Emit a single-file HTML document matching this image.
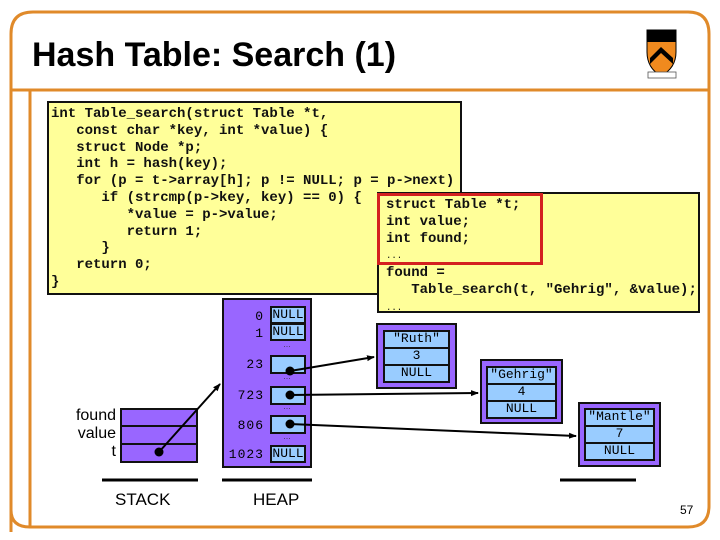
<!DOCTYPE html>
<html><head><meta charset="utf-8"><style>
body{margin:0;width:720px;height:540px;background:#fff;position:relative;overflow:hidden;font-family:"Liberation Sans",sans-serif}
.a{position:absolute}
.code{font-family:"Liberation Mono",monospace;font-weight:bold;font-size:14px;line-height:16.8px;white-space:pre;color:#111}
.cell{position:absolute;background:#99ccff;border:2px solid #111;box-sizing:border-box;text-align:center;font-family:"Liberation Mono",monospace;font-size:13px;line-height:14px}
.idx{position:absolute;font-family:"Liberation Mono",monospace;font-size:13px;text-align:right;width:44px;letter-spacing:1px}
.dots{position:absolute;font-size:8px;color:#333}
</style></head><body>
<svg class="a" style="left:0;top:0" width="720" height="540">
<path d="M11,532 L11,34 Q11,12 33,12 L688,12 Q709,12 709,34 L709,506 Q709,527 688,527 L30,527" fill="none" stroke="#e08a2a" stroke-width="3"/>
<path d="M11,510 Q11,527 30,527" fill="none" stroke="#e08a2a" stroke-width="3"/>
<line x1="11" y1="90" x2="709" y2="90" stroke="#e08a2a" stroke-width="3"/>
<line x1="30" y1="90" x2="30" y2="527" stroke="#e08a2a" stroke-width="3"/>
<path d="M647,30 L676,30 L676,52 Q676,68 661,76 Q647,68 647,52 Z" fill="#f08a1e" stroke="#000"/>
<rect x="647" y="30" width="29" height="12" fill="#000"/>
<path d="M650,58 L661,47 L673,58 L673,64 L661,53 L650,64 Z" fill="#000"/>
<rect x="648" y="72" width="28" height="6" fill="#fff" stroke="#555" stroke-width="0.8"/>
<line x1="102" y1="480" x2="198" y2="480" stroke="#000" stroke-width="3"/>
<line x1="222" y1="480" x2="312" y2="480" stroke="#000" stroke-width="3"/>
<line x1="560" y1="480" x2="636" y2="480" stroke="#000" stroke-width="3"/>
</svg>
<div class="a" style="left:32px;top:36px;font-size:34px;font-weight:bold">Hash Table: Search (1)</div>

<div class="a code" style="left:47px;top:101px;width:409px;height:187px;background:#ffff99;border:2px solid #111;padding:3px 0 0 2px;box-sizing:content-box">int Table_search(struct Table *t,
   const char *key, int *value) {
   struct Node *p;
   int h = hash(key);
   for (p = t-&gt;array[h]; p != NULL; p = p-&gt;next)
      if (strcmp(p-&gt;key, key) == 0) {
         *value = p-&gt;value;
         return 1;
      }
   return 0;
}</div>
<div class="a code" style="left:377px;top:192px;background:#ffff99;border:2px solid #111;padding:3px 0 0 7px;box-sizing:border-box;width:323px;height:121px">struct Table *t;
int value;
int found;
<span style="font-weight:normal;font-size:9px">...</span>
found =
   Table_search(t, "Gehrig", &amp;value);
<span style="font-weight:normal;font-size:9px">...</span></div>
<div class="a" style="left:377px;top:193px;width:160px;height:66px;border:3px solid #d42020"></div>

<div class="a" style="left:222px;top:298px;width:90px;height:170px;background:#9966ff;border:2px solid #111;box-sizing:border-box"></div>
<div class="idx" style="left:220px;top:309px">0</div>
<div class="idx" style="left:220px;top:326px">1</div>
<div class="idx" style="left:220px;top:357px">23</div>
<div class="idx" style="left:220px;top:388px">723</div>
<div class="idx" style="left:220px;top:418px">806</div>
<div class="idx" style="left:220px;top:447px">1023</div>
<div class="cell" style="left:270px;top:306px;width:36px;height:18px">NULL</div>
<div class="cell" style="left:270px;top:323px;width:36px;height:18px">NULL</div>
<div class="cell" style="left:270px;top:355px;width:36px;height:19px"></div>
<div class="cell" style="left:270px;top:386px;width:36px;height:19px"></div>
<div class="cell" style="left:270px;top:415px;width:36px;height:19px"></div>
<div class="cell" style="left:270px;top:445px;width:36px;height:18px">NULL</div>
<div class="dots" style="left:283px;top:340px">…</div>
<div class="dots" style="left:283px;top:372px">…</div>
<div class="dots" style="left:283px;top:402px">…</div>
<div class="dots" style="left:283px;top:432px">…</div>

<div class="a" style="left:120px;top:408px;width:78px;height:55px;background:#9966ff;border:2px solid #111;box-sizing:border-box"></div>
<div class="a" style="left:120px;top:425px;width:78px;height:2px;background:#111"></div>
<div class="a" style="left:120px;top:443px;width:78px;height:2px;background:#111"></div>
<div class="a" style="left:50px;top:407px;width:66px;text-align:right;font-size:16px;line-height:18px">found<br>value<br>t</div>

<div class="a" style="left:376px;top:323px;width:81px;height:66px;background:#9966ff;border:2px solid #111;box-sizing:border-box"></div>
<div class="cell" style="left:383px;top:330px;width:67px;height:19px">"Ruth"</div>
<div class="cell" style="left:383px;top:347px;width:67px;height:19px">3</div>
<div class="cell" style="left:383px;top:364px;width:67px;height:19px">NULL</div>
<div class="a" style="left:480px;top:359px;width:83px;height:65px;background:#9966ff;border:2px solid #111;box-sizing:border-box"></div>
<div class="cell" style="left:486px;top:366px;width:71px;height:19px">"Gehrig"</div>
<div class="cell" style="left:486px;top:383px;width:71px;height:19px">4</div>
<div class="cell" style="left:486px;top:400px;width:71px;height:19px">NULL</div>
<div class="a" style="left:578px;top:402px;width:83px;height:65px;background:#9966ff;border:2px solid #111;box-sizing:border-box"></div>
<div class="cell" style="left:584px;top:408px;width:71px;height:19px">"Mantle"</div>
<div class="cell" style="left:584px;top:425px;width:71px;height:19px">7</div>
<div class="cell" style="left:584px;top:442px;width:71px;height:19px">NULL</div>

<svg class="a" style="left:0;top:0" width="720" height="540">
<defs><marker id="m" markerWidth="8" markerHeight="8" refX="7" refY="4" orient="auto" markerUnits="userSpaceOnUse"><path d="M0,1 L8,4 L0,7 Z" fill="#000"/></marker></defs>
<g stroke="#000" stroke-width="2" fill="none">
<line x1="290" y1="371" x2="374" y2="357" marker-end="url(#m)"/>
<line x1="290" y1="395" x2="478" y2="393" marker-end="url(#m)"/>
<line x1="290" y1="424" x2="576" y2="436" marker-end="url(#m)"/>
<line x1="159" y1="452" x2="220" y2="384" marker-end="url(#m)"/>
</g>
<g fill="#000"><circle cx="290" cy="371" r="4.5"/><circle cx="290" cy="395" r="4.5"/><circle cx="290" cy="424" r="4.5"/><circle cx="159" cy="452" r="4.5"/></g>
</svg>
<div class="a" style="left:115px;top:490px;font-size:17px">STACK</div>
<div class="a" style="left:253px;top:490px;font-size:17px">HEAP</div>
<div class="a" style="left:680px;top:503px;font-size:12px">57</div>
</body></html>
